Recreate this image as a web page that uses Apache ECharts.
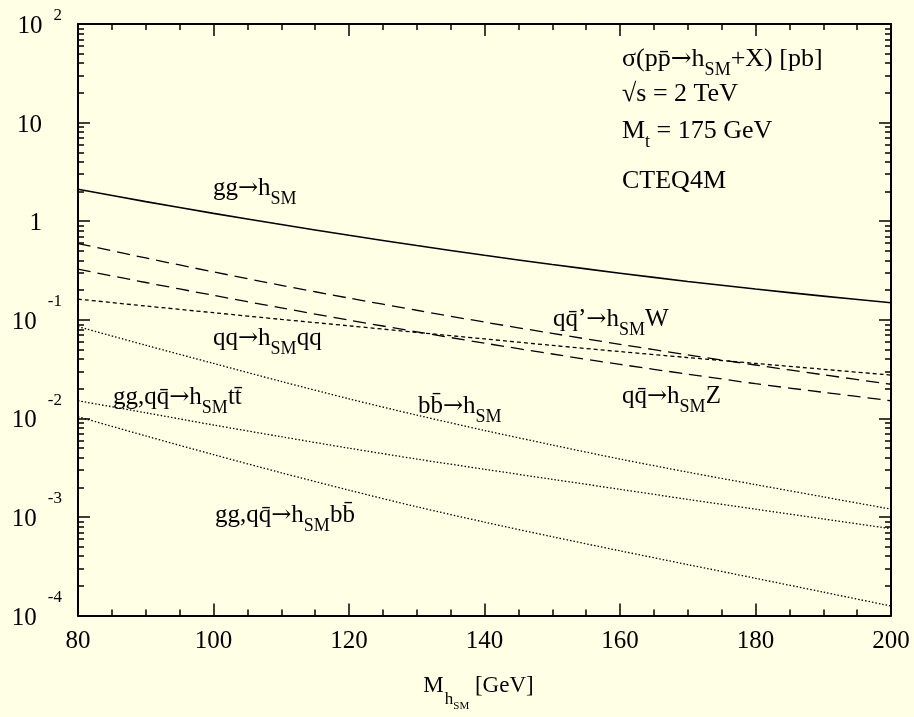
<!DOCTYPE html>
<html>
<head>
<meta charset="utf-8">
<title>Higgs production at the Tevatron</title>
<script src="https://cdn.jsdelivr.net/npm/echarts/dist/echarts.min.js"></script>
<style>
  html, body { margin: 0; padding: 0; background: #ffffe6; }
  #chart { width: 914px; height: 717px; }
</style>
</head>
<body>
<div id="chart"></div>
<script>
// Higgs mass (GeV)
const masses = [80, 90, 100, 110, 120, 130, 140, 150, 160, 170, 180, 190, 200]

// cross sections in pb
const ggH = [2.11, 1.58, 1.20, 0.925, 0.719, 0.566, 0.451, 0.364, 0.297, 0.245, 0.205, 0.174, 0.149]
const hW = [0.593, 0.424, 0.306, 0.224, 0.166, 0.125, 0.0948, 0.0728, 0.0564, 0.0441, 0.0348, 0.0277, 0.0222]
const hZ = [0.326, 0.239, 0.177, 0.132, 0.0993, 0.0755, 0.0579, 0.0450, 0.0353, 0.0281, 0.0225, 0.0184, 0.0151]
const hqq = [0.162, 0.138, 0.118, 0.101, 0.0869, 0.0745, 0.0640, 0.0550, 0.0476, 0.0414, 0.0361, 0.0315, 0.0275]
const bbH = [0.0853, 0.0552, 0.0361, 0.0237, 0.0158, 0.0108, 0.00755, 0.00537, 0.00387, 0.00285, 0.00213, 0.00160, 0.00120]
const ttH = [0.0151, 0.0114, 0.00857, 0.00652, 0.00499, 0.00387, 0.00305, 0.00241, 0.00191, 0.00151, 0.00120, 0.000957, 0.000762]
const bbhH = [0.0104, 0.00664, 0.00429, 0.00281, 0.00187, 0.00127, 0.000887, 0.000631, 0.000454, 0.000329, 0.000239, 0.000173, 0.000125]

// axis ticks
const xTicks = [80, 100, 120, 140, 160, 180, 200]
const yTickValues = [1e-4, 1e-3, 1e-2, 1e-1, 1, 10, 100]
const yTickLabels = ['10^-4', '10^-3', '10^-2', '10^-1', '1', '10', '10^2']
const yMinorTicks = []
yTickValues.slice(0, -1).forEach(d => {
  for (let k = 2; k <= 9; k++) yMinorTicks.push(+(d * k).toPrecision(3))
})

const serif = '"Liberation Serif", "DejaVu Serif", serif'
const arrowFont = '"DejaVu Serif", "DejaVu Sans", serif'
const black = '#000'

const pairs = arr => masses.map((m, i) => [m, arr[i]])

const curves = [
  { name: 'gg→h', data: ggH, width: 1.6, type: 'solid' },
  { name: 'qq̄\'→hW', data: hW, width: 1.3, type: [13, 7] },
  { name: 'qq̄→hZ', data: hZ, width: 1.3, type: [13, 7] },
  { name: 'qq→hqq', data: hqq, width: 1.3, type: [4, 3] },
  { name: 'bb̄→h', data: bbH, width: 1.3, type: [1.5, 2] },
  { name: 'tt̄h', data: ttH, width: 1.3, type: [1.5, 2] },
  { name: 'bb̄h', data: bbhH, width: 1.3, type: [1.5, 2] }
]

// rich text styles for the annotations: normal, subscript, arrow
const richText = (size) => ({
  n: { fontSize: size, lineHeight: size + 4, fontFamily: serif, fill: black },
  s: { fontSize: 18, lineHeight: 20, padding: [22, 0, 0, 0], fontFamily: serif, fill: black },
  a: { fontSize: size - 1, lineHeight: size + 4, fontFamily: arrowFont, fill: black }
})

const annotations = [
  { text: '{n|gg}{a|→}{n|h}{s|SM}', x: 213, base: 197, size: 25 },
  { text: '{n|qq}{a|→}{n|h}{s|SM}{n|qq}', x: 213, base: 347, size: 25 },
  { text: '{n|gg,qq̄}{a|→}{n|h}{s|SM}{n|tt̄}', x: 113, base: 406, size: 25 },
  { text: '{n|bb̄}{a|→}{n|h}{s|SM}', x: 418, base: 415, size: 25 },
  { text: '{n|gg,qq̄}{a|→}{n|h}{s|SM}{n|bb̄}', x: 215, base: 524, size: 25 },
  { text: '{n|qq̄’}{a|→}{n|h}{s|SM}{n|W}', x: 553, base: 328, size: 25 },
  { text: '{n|qq̄}{a|→}{n|h}{s|SM}{n|Z}', x: 622, base: 405, size: 25 },
  { text: '{n|σ(pp̄}{a|→}{n|h}{s|SM}{n|+X) [pb]}', x: 622, base: 68, size: 26 },
  { text: '{n|√s = 2 TeV}', x: 622, base: 103, size: 26 },
  { text: '{n|M}{s|t}{n| = 175 GeV}', x: 622, base: 140, size: 26 },
  { text: '{n|CTEQ4M}', x: 622, base: 190, size: 26 }
]

const yLabel = (v) => {
  const i = yTickValues.findIndex(t => Math.abs(Math.log10(t) - Math.log10(v)) < 1e-6)
  const s = i >= 0 ? yTickLabels[i] : ''
  if (s.indexOf('^') >= 0) {
    const [b, e] = s.split('^')
    // the top exponent sits lower in the original
    return '{b|' + b + '}{' + (i === yTickValues.length - 1 ? 'e2' : 'e') + '|' + e + '}'
  }
  return '{p|' + s + '}'
}

const xAxisBase = (pos) => ({
  type: 'value',
  position: pos,
  min: 80,
  max: 200,
  interval: 20,
  axisLine: { show: true, onZero: false, lineStyle: { color: black, width: 2 } },
  axisTick: { show: true, inside: true, length: 12, lineStyle: { color: black, width: 1.5 } },
  minorTick: { show: true, splitNumber: 4, length: 6, lineStyle: { color: black, width: 1.5 } },
  splitLine: { show: false },
  minorSplitLine: { show: false }
})

const yAxisBase = (pos, ticks, len, line) => ({
  type: 'log',
  logBase: 10,
  position: pos,
  min: 1e-4,
  max: 100,
  axisLine: { show: line, onZero: false, lineStyle: { color: black, width: 2 } },
  axisTick: { show: true, inside: true, length: len, customValues: ticks, lineStyle: { color: black, width: 1.5 } },
  axisLabel: { show: false },
  splitLine: { show: false }
})

const leftAxis = yAxisBase('left', yTickValues, 12, true)
leftAxis.axisLabel = {
  show: true,
  customValues: yTickValues,
  margin: 16,
  formatter: yLabel,
  rich: {
    b: { fontSize: 25, lineHeight: 24, padding: [5, 0, 0, 0], fontFamily: serif, color: black },
    e: { fontSize: 17, lineHeight: 20, padding: [0, 0, 36, 11], fontFamily: serif, color: black },
    e2: { fontSize: 17, lineHeight: 20, padding: [0, 0, 16, 11], fontFamily: serif, color: black },
    p: { fontSize: 25, lineHeight: 24, padding: [5, 20, 0, 0], fontFamily: serif, color: black }
  }
}

const bottomAxis = xAxisBase('bottom')
bottomAxis.axisLabel = {
  show: true,
  margin: 14,
  fontSize: 25,
  lineHeight: 24,
  fontFamily: serif,
  color: black,
  customValues: xTicks
}
bottomAxis.name = '{m|M}{h|h}{s|SM}{g| [GeV]}'
bottomAxis.nameLocation = 'middle'
bottomAxis.nameGap = 42
bottomAxis.nameTextStyle = {
  rich: {
    m: { fontSize: 23, lineHeight: 26, fontFamily: serif, color: black },
    h: { fontSize: 17, lineHeight: 20, padding: [28, 0, 0, 1], fontFamily: serif, color: black },
    s: { fontSize: 11, lineHeight: 13, padding: [42, 0, 0, 0], fontFamily: serif, color: black },
    g: { fontSize: 23, lineHeight: 26, padding: [0, 12, 0, 0], fontFamily: serif, color: black }
  }
}

const topAxis = xAxisBase('top')
topAxis.axisLabel = { show: false }

const chart = echarts.init(document.getElementById('chart'))

chart.setOption({
  animation: false,
  backgroundColor: '#ffffe6',
  grid: { left: 78, right: 23, top: 24, bottom: 95, containLabel: false },
  xAxis: [bottomAxis, topAxis],
  yAxis: [
    leftAxis,
    yAxisBase('left', yMinorTicks, 6, false),
    yAxisBase('right', yTickValues, 12, true),
    yAxisBase('right', yMinorTicks, 6, false)
  ],
  series: curves.map(c => ({
    name: c.name,
    type: 'line',
    xAxisIndex: 0,
    yAxisIndex: 0,
    data: pairs(c.data),
    showSymbol: false,
    symbol: 'none',
    smooth: 0.3,
    silent: true,
    lineStyle: { color: black, width: c.width, type: c.type }
  })),
  graphic: annotations.map(a => ({
    type: 'text',
    x: a.x,
    y: a.base - 0.3375 * a.size,
    silent: true,
    style: {
      text: a.text,
      rich: richText(a.size),
      fill: black,
      fontFamily: serif,
      fontSize: a.size,
      align: 'left',
      verticalAlign: 'middle'
    }
  }))
})
</script>
</body>
</html>
